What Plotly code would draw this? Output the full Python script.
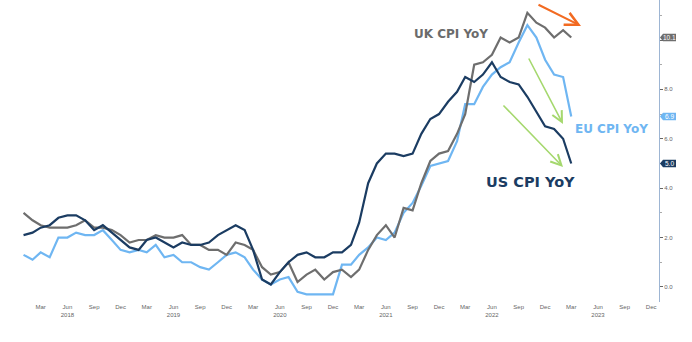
import pandas as pd
import plotly.graph_objects as go

months = pd.date_range("2018-01-01", "2023-03-01", freq="MS")

us_cpi = [2.1, 2.2, 2.4, 2.5, 2.8, 2.9, 2.9, 2.7, 2.3, 2.5, 2.2, 1.9,
          1.6, 1.5, 1.9, 2.0, 1.8, 1.6, 1.8, 1.7, 1.7, 1.8, 2.1, 2.3,
          2.5, 2.3, 1.5, 0.3, 0.1, 0.6, 1.0, 1.3, 1.4, 1.2, 1.2, 1.4,
          1.4, 1.7, 2.6, 4.2, 5.0, 5.4, 5.4, 5.3, 5.4, 6.2, 6.8, 7.0,
          7.5, 7.9, 8.5, 8.3, 8.6, 9.1, 8.5, 8.3, 8.2, 7.7, 7.1, 6.5,
          6.4, 6.0, 5.0]
uk_cpi = [3.0, 2.7, 2.5, 2.4, 2.4, 2.4, 2.5, 2.7, 2.4, 2.4, 2.3, 2.1,
          1.8, 1.9, 1.9, 2.1, 2.0, 2.0, 2.1, 1.7, 1.7, 1.5, 1.5, 1.3,
          1.8, 1.7, 1.5, 0.8, 0.5, 0.6, 1.0, 0.2, 0.5, 0.7, 0.3, 0.6,
          0.7, 0.4, 0.7, 1.5, 2.1, 2.5, 2.0, 3.2, 3.1, 4.2, 5.1, 5.4,
          5.5, 6.2, 7.0, 9.0, 9.1, 9.4, 10.1, 9.9, 10.1, 11.1, 10.7, 10.5,
          10.1, 10.4, 10.1]
eu_cpi = [1.3, 1.1, 1.4, 1.2, 2.0, 2.0, 2.2, 2.1, 2.1, 2.3, 1.9, 1.5,
          1.4, 1.5, 1.4, 1.7, 1.2, 1.3, 1.0, 1.0, 0.8, 0.7, 1.0, 1.3,
          1.4, 1.2, 0.7, 0.3, 0.1, 0.3, 0.4, -0.2, -0.3, -0.3, -0.3, -0.3,
          0.9, 0.9, 1.3, 1.6, 2.0, 1.9, 2.2, 3.0, 3.4, 4.1, 4.9, 5.0,
          5.1, 5.9, 7.4, 7.4, 8.1, 8.6, 8.9, 9.1, 9.9, 10.6, 10.1, 9.2,
          8.6, 8.5, 6.9]

series_names = ["EU CPI YoY", "UK CPI YoY", "US CPI YoY"]
series_vals = [eu_cpi, uk_cpi, us_cpi]
series_colors = ["#6fb6f2", "#6e6e6e", "#1b3c62"]

tick_dates = pd.date_range("2018-03-01", "2023-12-01", freq="3MS")
tick_text = [d.strftime("%b") + (f"<br>{d.year}" if d.month == 6 else "") for d in tick_dates]

y_tickvals = [0, 2, 4, 6, 8, 10]
y_ticktext = ["0.0", "2.0", "4.0", "6.0", "8.0", ""]

fig = go.Figure()
for name, vals, col in zip(series_names, series_vals, series_colors):
    fig.add_trace(go.Scatter(x=months, y=vals, mode="lines", name=name,
                             line=dict(color=col, width=2.2), showlegend=False))

PLOT_W = 659.0
PLOT_H = 302.0
YR = [-0.61, 11.62]
unit_per_px = (YR[1] - YR[0]) / PLOT_H

# value tags on the right axis
for vals, col in zip(series_vals, series_colors):
    v = vals[-1]
    x0 = 1.0 + 1.0 / PLOT_W
    xm = 1.0 + 4.0 / PLOT_W
    x1 = 1.0 + 17.0 / PLOT_W
    h = 3.8 * unit_per_px
    path = f"M {x0},{v} L {xm},{v + h} L {x1},{v + h} L {x1},{v - h} L {xm},{v - h} Z"
    fig.add_shape(type="path", path=path, xref="paper", yref="y",
                  fillcolor=col, line=dict(width=0), layer="above")
    fig.add_annotation(x=1.0 + 10.5 / PLOT_W, y=v, xref="paper", yref="y",
                       text=f"{v:.1f}", showarrow=False,
                       font=dict(family="Liberation Sans, Arial", size=6.5, color="white"),
                       xanchor="center", yanchor="middle")

# series labels
label_specs = [
    ("UK CPI YoY", 451, 34, 12, "#6b6b6b"),
    ("EU CPI YoY", 611, 129, 12, "#6fb6f2"),
    ("US CPI YoY", 530, 182, 14.5, "#1b3c62"),
]
for txt, px, py, sz, col in label_specs:
    fig.add_annotation(x=px / PLOT_W, y=1 - py / PLOT_H, xref="paper", yref="paper",
                       text=f"<b>{txt}</b>", showarrow=False,
                       font=dict(family="DejaVu Sans", size=sz, color=col),
                       xanchor="center", yanchor="middle")

# arrows (head position, tail offset in px)
arrow_specs = [
    (581, 26, -44, -22, "#f26a21", 2.0),
    (563, 124, -35, -67, "#a5d86e", 1.6),
    (563, 167, -61, -63, "#a5d86e", 1.6),
]
for hx, hy, ax, ay, col, w in arrow_specs:
    fig.add_annotation(x=hx / PLOT_W, y=1 - hy / PLOT_H, xref="paper", yref="paper",
                       ax=ax, ay=ay, axref="pixel", ayref="pixel",
                       text="", showarrow=True, arrowhead=5, arrowsize=1.3,
                       arrowwidth=w, arrowcolor=col, standoff=0)

fig.update_xaxes(range=["2017-10-12", "2023-12-28"], tickvals=tick_dates, ticktext=tick_text,
                 showgrid=False, zeroline=False, showline=False, ticks="",
                 tickfont=dict(family="Liberation Sans, Arial", size=6, color="#666666"))
fig.update_yaxes(range=YR, side="right", tickvals=y_tickvals, ticktext=y_ticktext,
                 showgrid=False, zeroline=False, showline=True, linecolor="#9db5d3", linewidth=1,
                 ticks="outside", ticklen=3, tickcolor="#666666", tickwidth=1,
                 minor=dict(dtick=1, tick0=0, ticks="outside", ticklen=2, tickcolor="#aaaaaa"),
                 tickfont=dict(family="Liberation Sans, Arial", size=6, color="#666666"))

fig.update_layout(width=692, height=342, margin=dict(l=0, r=33, t=0, b=40),
                  plot_bgcolor="white", paper_bgcolor="white")

fig.write_html("out.html")
